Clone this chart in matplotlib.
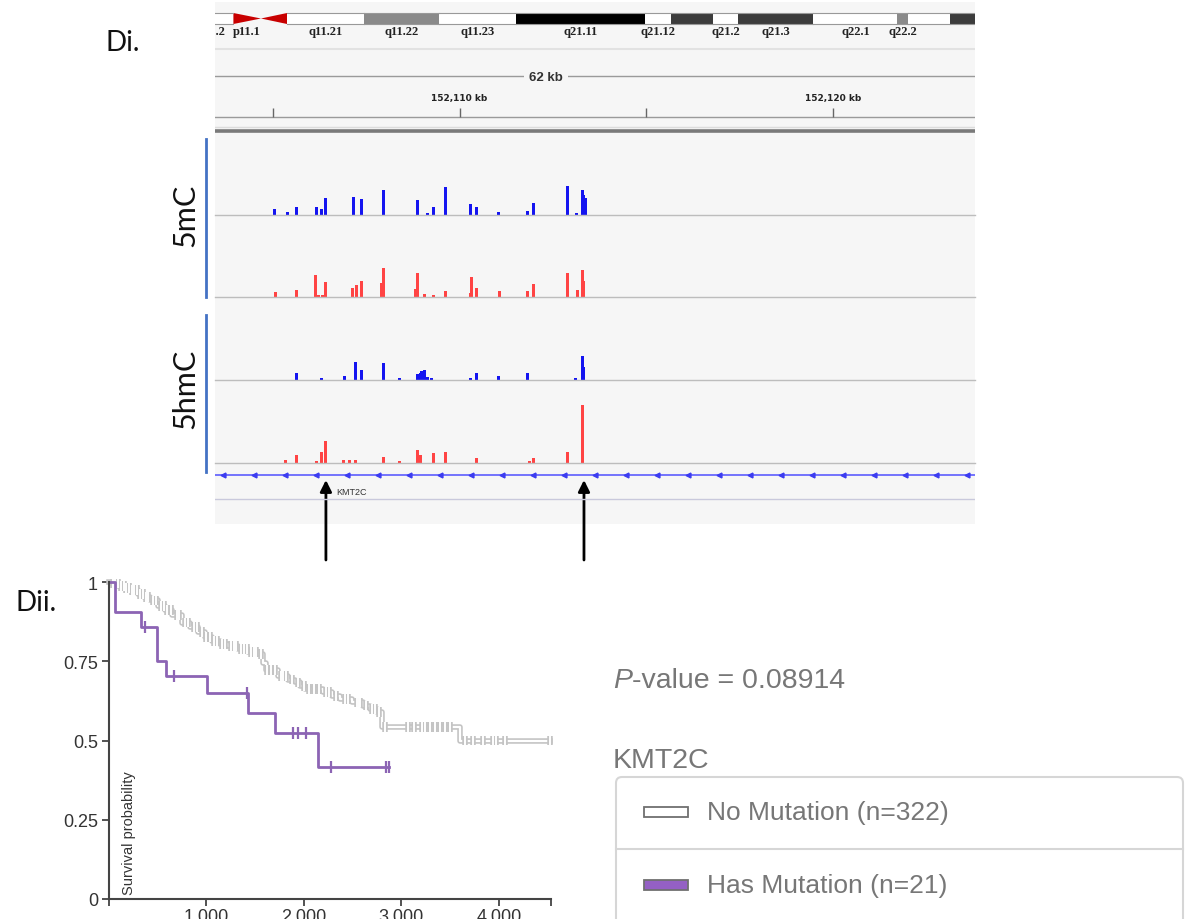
import matplotlib.pyplot as plt
import numpy as np
import matplotlib.patheffects as pe
from matplotlib.patches import FancyBboxPatch, Rectangle, Polygon
from matplotlib import transforms

# ---- ideogram bands (chr7, Mb) ----
band_names = ['p11.2', 'p11.1', 'q11.1', 'q11.21', 'q11.22', 'q11.23', 'q21.11', 'q21.12',
              'q21.13', 'q21.2', 'q21.3', 'q22.1', 'q22.2', 'q22.3', 'q31.1']
band_start = [55.0, 58.0, 59.9, 61.7, 67.0, 72.2, 77.5, 86.4, 88.2, 91.1, 92.8, 98.0, 103.8, 104.5, 107.4]
band_end = [58.0, 59.9, 61.7, 67.0, 72.2, 77.5, 86.4, 88.2, 91.1, 92.8, 98.0, 103.8, 104.5, 107.4, 111.6]
band_stain = ['gneg', 'acen', 'acen', 'gneg', 'gpos50', 'gneg', 'gpos100', 'gneg',
              'gpos75', 'gneg', 'gpos75', 'gneg', 'gpos50', 'gneg', 'gpos75']
band_shown = [True, True, False, True, True, True, True, True, False, True, True, True, True, False, False]
ideo_view = (56.73, 109.15)

# ---- IGV region (kb on chr7) ----
view_kb = (152103.45, 152123.80)
ruler_ticks = [152105, 152110, 152115, 152120]
ruler_labels = {152110: '152,110 kb', 152120: '152,120 kb'}
span_label = '62 kb'

mC_blue_pos = [152105.05, 152105.40, 152105.64, 152106.18, 152106.31, 152106.42, 152107.17, 152107.38,
               152107.95, 152108.88, 152109.15, 152109.31, 152109.63, 152110.30, 152110.44, 152111.03,
               152111.83, 152111.99, 152112.88, 152113.12, 152113.28, 152113.33, 152113.36]
mC_blue_val = [6, 3, 8, 8, 6, 17, 18, 16, 25, 15, 2, 8, 28, 11, 8, 3, 4, 12, 29, 2, 25, 20, 17]

mC_red_pos = [152105.08, 152105.64, 152106.15, 152106.23, 152106.34, 152106.42, 152107.12, 152107.23,
              152107.38, 152107.92, 152107.97, 152108.83, 152108.88, 152109.07, 152109.29, 152109.63,
              152110.28, 152110.33, 152110.44, 152111.06, 152111.83, 152111.99, 152112.88, 152113.15,
              152113.28, 152113.33]
mC_red_val = [5, 7, 22, 2, 2, 15, 9, 12, 16, 14, 29, 8, 24, 3, 2, 6, 4, 20, 9, 6, 6, 13, 24, 7, 27, 16]

hmC_blue_pos = [152105.64, 152106.31, 152106.93, 152107.22, 152107.38, 152107.95, 152108.38, 152108.88,
                152108.94, 152108.99, 152109.05, 152109.13, 152109.26, 152110.28, 152110.44, 152111.03,
                152111.83, 152113.09, 152113.28, 152113.33]
hmC_blue_val = [7, 2, 4, 18, 10, 17, 2, 6, 7, 9, 10, 3, 2, 2, 7, 4, 7, 2, 24, 13]

hmC_red_pos = [152105.35, 152105.64, 152106.18, 152106.29, 152106.42, 152106.90, 152107.06, 152107.22,
               152107.95, 152108.38, 152108.86, 152108.96, 152109.29, 152109.63, 152110.44, 152111.86,
               152111.99, 152112.90, 152113.28]
hmC_red_val = [3, 8, 2, 11, 22, 3, 3, 3, 6, 2, 13, 8, 10, 11, 5, 2, 5, 11, 58]

gene_name = 'KMT2C'
gene_label_kb = 152106.71
arrow_kb = [152106.42, 152113.33]

# ---- Kaplan-Meier (days, survival) ----
nomut_t = [0, 31, 92, 154, 215, 298, 359, 421, 503, 575, 646, 749, 831, 913, 985, 1057, 1139, 1221,
           1324, 1426, 1529, 1580, 1611, 1734, 1837, 1908, 1960, 2011, 2196, 2288, 2370, 2493, 2606,
           2678, 2750, 2801, 3601, 4525]
nomut_s = [1.0, 0.995, 0.988, 0.982, 0.975, 0.962, 0.952, 0.942, 0.925, 0.912, 0.897, 0.872, 0.858,
           0.842, 0.827, 0.815, 0.805, 0.797, 0.788, 0.780, 0.774, 0.745, 0.722, 0.703, 0.692, 0.683,
           0.672, 0.663, 0.654, 0.640, 0.630, 0.620, 0.610, 0.600, 0.590, 0.543, 0.500, 0.500]
nomut_cens = [40, 65, 90, 120, 150, 175, 210, 240, 260, 290, 320, 350, 380, 400, 450, 480, 530, 560,
              600, 640, 700, 720, 780, 810, 870, 900, 950, 1000, 1040, 1080, 1110, 1160, 1190, 1250,
              1280, 1300, 1350, 1380, 1420, 1460, 1490, 1510, 1560, 1620, 1660, 1700, 1760, 1790, 1820,
              1880, 1940, 2000, 2050, 2100, 2150, 2230, 2260, 2330, 2420, 2450, 2540, 2560, 2580, 2640,
              2700, 2730, 2770, 2830, 3068, 3129, 3211, 3242, 3293, 3345, 3396, 3447, 3499, 3653, 3735,
              3837, 3940, 3971, 4063, 4525]

mut_t = [0, 62, 329, 493, 585, 1006, 1427, 1704, 2146, 2875]
mut_s = [1.0, 0.905, 0.857, 0.752, 0.705, 0.651, 0.587, 0.524, 0.417, 0.417]
mut_cens = [370, 667, 1420, 1891, 1942, 2018, 2275, 2842, 2873]

x_ticks = [1000, 2000, 3000, 4000]
x_ticklabels = ['1,000', '2,000', '3,000', '4,000']
y_ticks = [0, 0.25, 0.5, 0.75, 1]
y_ticklabels = ['0', '0.25', '0.5', '0.75', '1']

p_value_text = '-value = 0.08914'
legend_title = 'KMT2C'
legend_labels = ['No Mutation (n=322)', 'Has Mutation (n=21)']

# ---- colours ----
blue_sig = '#1414f0'
red_sig = '#ff4444'
purple = '#8c64b4'
gray_line = '#c4c4c4'
txt_gray = '#777777'
stain_col = {'gneg': 'white', 'gpos50': '#8a8a8a', 'gpos75': '#3c3c3c', 'gpos100': 'black', 'acen': '#c80000'}

W, H = 1186, 920
fig = plt.figure(figsize=(W / 100, H / 100), dpi=100)


def px_axes(x0, y0, w, h):
    return fig.add_axes([x0 / W, 1 - (y0 + h) / H, w / W, h / H])


bg = fig.add_axes([0, 0, 1, 1])
bg.set_xlim(0, W)
bg.set_ylim(H, 0)
bg.axis('off')

# IGV panel background
bg.add_patch(Rectangle((215, 3), 760, 522, facecolor='#f6f6f6', edgecolor='none'))

# panel labels
bg.text(106, 43, 'Di.', fontsize=20, family='Lato', va='center', ha='left', color='#111')
bg.text(16, 603, 'Dii.', fontsize=20, family='Lato', va='center', ha='left', color='#111')
bg.text(185, 215, '5mC', fontsize=22, family='Lato', rotation=90, va='center', ha='center', color='#111')
bg.text(185, 389, '5hmC', fontsize=22, family='Lato', rotation=90, va='center', ha='center', color='#111')
bg.plot([206, 206], [140, 298], color='#4472c4', lw=2)
bg.plot([206, 206], [316, 473], color='#4472c4', lw=2)

## ideogram
ideo = px_axes(215, 10, 760, 30)
ideo.set_xlim(*ideo_view)
ideo.set_ylim(30, 0)
ideo.axis('off')
for name, s, e, st, shown in zip(band_names, band_start, band_end, band_stain, band_shown):
    if st == 'acen':
        if name.startswith('p'):
            poly = [(s, 4), (s, 15), (e, 9.5)]
        else:
            poly = [(s, 9.5), (e, 4), (e, 15)]
        ideo.add_patch(Polygon(poly, closed=True, facecolor=stain_col[st], edgecolor='none'))
    else:
        ideo.bar(s, 11, width=e - s, bottom=4, align='edge', color=stain_col[st], edgecolor='none')
    if shown:
        ideo.text((s + e) / 2, 22, name, ha='center', va='center', fontsize=9,
                  family='Liberation Serif', weight='bold', color='#222', clip_on=True)
for s, e, st in zip(band_start, band_end, band_stain):
    if st != 'acen':
        ideo.plot([s, e], [4, 4], color='#999', lw=0.8)
        ideo.plot([s, e], [15, 15], color='#999', lw=0.8)

## ruler + gene track (y in pixel rows)
igv = px_axes(215, 3, 760, 522)
igv.set_xlim(*view_kb)
igv.set_ylim(525, 3)
igv.axis('off')
igv.axhline(50, color='#e2e2e2', lw=1.5)
igv.axhline(77, color='#9a9a9a', lw=1)
igv.text(0.4355, 78, span_label, transform=transforms.blended_transform_factory(igv.transAxes, igv.transData),
         ha='center', va='center', fontsize=9.5, family='Liberation Sans', weight='bold', color='#333',
         bbox=dict(facecolor='#f6f6f6', edgecolor='none', pad=4))
igv.axhline(118, color='#9a9a9a', lw=1)
igv.vlines(ruler_ticks, 109, 118, color='#666', lw=1)
for kb, lab in ruler_labels.items():
    igv.text(kb, 99, lab, ha='center', va='center', fontsize=6.5, weight='bold',
             family='DejaVu Sans', color='#222')
igv.axhline(128, color='#dcdcdc', lw=1)
igv.axhline(131.5, color='#7a7a7a', lw=2.6)

igv.axhline(476, color='#5050ff', lw=1.1)
strand_marks = np.arange(152103.66, view_kb[1], 0.8305)
igv.plot(strand_marks, [476] * len(strand_marks), ls='none', marker='<', ms=3.5, color='#3c3cf0')
igv.text(gene_label_kb, 493, gene_name, ha='left', va='center', fontsize=6.5,
         family='Liberation Sans', color='#333')
igv.axhline(500, color='#c9c9dc', lw=1)

## signal tracks
tracks = [(136, mC_blue_pos, mC_blue_val, blue_sig),
          (218, mC_red_pos, mC_red_val, red_sig),
          (301, hmC_blue_pos, hmC_blue_val, blue_sig),
          (384, hmC_red_pos, hmC_red_val, red_sig)]
for top, pos, val, col in tracks:
    ax = px_axes(215, top, 760, 80)
    ax.set_xlim(*view_kb)
    ax.set_ylim(0, 80)
    ax.axis('off')
    ax.axhline(0, color='#bdbdbd', lw=1, clip_on=False)
    ax.bar(pos, val, width=0.08, color=col, edgecolor='none')

# arrows linking peaks to the survival panel
arr_tr = transforms.blended_transform_factory(igv.transData, bg.transData)
for kb in arrow_kb:
    bg.annotate('', xy=(kb, 481), xytext=(kb, 561), xycoords=arr_tr, textcoords=arr_tr,
                arrowprops=dict(arrowstyle='-|>', lw=2, color='black', mutation_scale=17,
                                shrinkA=0, shrinkB=0))

## Kaplan-Meier plot
km = px_axes(109, 583, 442, 317)
km.set_facecolor('none')
km.set_xlim(0, 4535)
km.set_ylim(0, 1)


def surv_at(t_list, s_list, times):
    idx = np.searchsorted(t_list, times, side='right') - 1
    return np.asarray(s_list)[idx]


outline = [pe.Stroke(linewidth=4, foreground=gray_line), pe.Normal()]
km.step(nomut_t, nomut_s, where='post', color='white', lw=1.6, clip_on=False, path_effects=outline)
km.plot(nomut_cens, surv_at(nomut_t, nomut_s, nomut_cens), ls='none', marker='|', ms=7, mew=1.4,
        color='white', clip_on=False, path_effects=outline)
km.step(mut_t, mut_s, where='post', color=purple, lw=2, clip_on=False)
km.plot(mut_cens, surv_at(mut_t, mut_s, mut_cens), ls='none', marker='|', ms=9, mew=1.6,
        color=purple, clip_on=False)

for side in ['top', 'right']:
    km.spines[side].set_visible(False)
for side in ['left', 'bottom']:
    km.spines[side].set_color('#444')
    km.spines[side].set_linewidth(1.5)
km.set_xticks([0] + x_ticks + [4535])
km.set_xticklabels([''] + x_ticklabels + [''])
km.set_yticks(y_ticks)
km.set_yticklabels(y_ticklabels)
km.tick_params(length=5, width=1.3, color='#444', labelsize=13, labelcolor='#333', pad=3)
km.tick_params(axis='x', pad=1)
for lab in km.get_xticklabels() + km.get_yticklabels():
    lab.set_family('Liberation Sans')
km.text(0.03, 0.015, 'Survival probability', transform=km.transAxes, rotation=90,
        ha='left', va='bottom', fontsize=10.5, family='Liberation Sans', color='#333')

## p-value and legend
p_txt = bg.text(613, 694, 'P', fontsize=20.5, style='italic', family='Liberation Sans',
                color=txt_gray, ha='left', va='bottom')
bg.annotate(p_value_text, xy=(1, 0), xycoords=p_txt, fontsize=20.5, family='Liberation Sans',
            color=txt_gray, ha='left', va='bottom')
bg.text(613, 774, legend_title, fontsize=20.5, family='Liberation Sans', color=txt_gray,
        ha='left', va='bottom')

bg.add_patch(FancyBboxPatch((616, 778), 567, 160, boxstyle='round,pad=0,rounding_size=6',
                            facecolor='white', edgecolor='#d6d6d6', lw=1.5))
bg.plot([616, 1183], [850, 850], color='#d6d6d6', lw=1.5)
swatch_face = ['white', '#9460c4']
for i, (lab, fc) in enumerate(zip(legend_labels, swatch_face)):
    yc = 813 + i * 73
    bg.add_patch(Rectangle((644, yc - 5), 44, 10, facecolor=fc, edgecolor='#707070', lw=1.3))
    bg.text(707, yc, lab, fontsize=19, family='Liberation Sans', color=txt_gray,
            ha='left', va='center')

fig.savefig('out.png', dpi=100)
